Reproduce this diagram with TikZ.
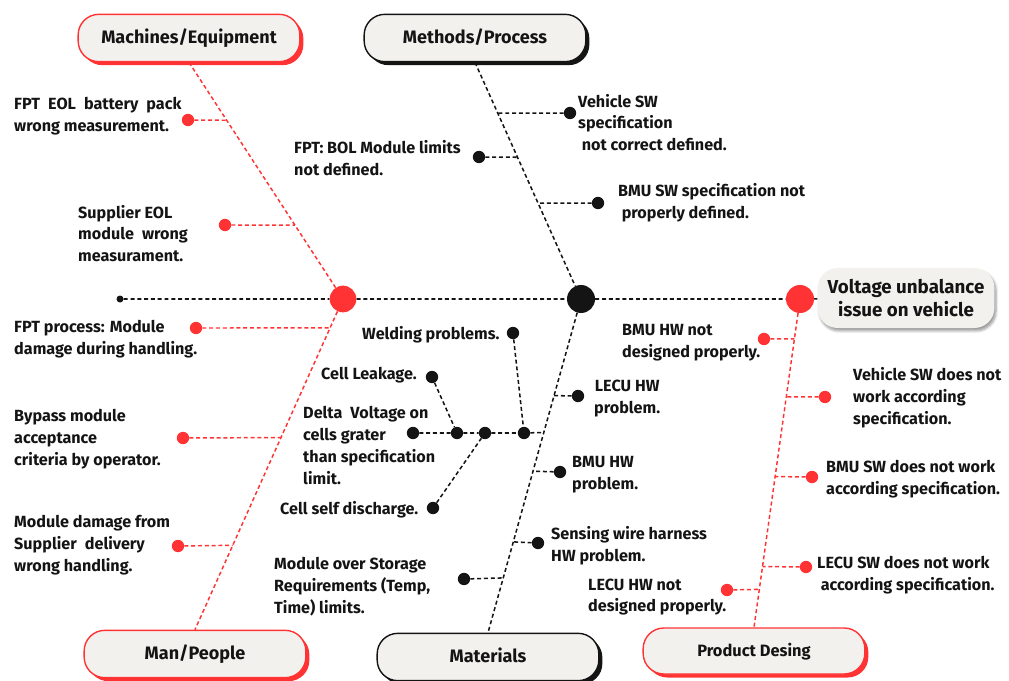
\documentclass[tikz,border=0pt]{standalone}
\usepackage{fontspec}
\setmainfont{Fira Sans}
\usetikzlibrary{calc,shadows,shadows.blur}
\definecolor{ink}{RGB}{20,20,20}
\definecolor{fishred}{RGB}{255,51,51}
\definecolor{paper}{RGB}{243,241,238}
\tikzset{
  every picture/.style={x=0.03cm, y=-0.03cm, color=ink, font=\bfseries\fontsize{13.8}{18.7}\selectfont},
  cat/.style={draw, line width=1.2pt, fill=paper, rounded corners=0.62cm, minimum width=6.65cm, minimum height=1.42cm, text depth=0.5ex, font=\bfseries\fontsize{15.4}{18}\selectfont},
  catred/.style={cat, draw=fishred, drop shadow={shadow xshift=3pt, shadow yshift=-3pt, fill=fishred, opacity=1}},
  catink/.style={cat, draw=ink, drop shadow={shadow xshift=3pt, shadow yshift=-3pt, fill=ink, opacity=1}},
  head/.style={fill=paper, rounded corners=0.6cm, minimum width=5.3cm, minimum height=1.8cm, align=center, font=\bfseries\fontsize{16}{19.6}\selectfont, blur shadow={shadow xshift=1.5pt, shadow yshift=-2.5pt, shadow blur steps=6, shadow opacity=40}},
  dot/.style={circle, fill=ink, inner sep=0pt, minimum size=0.37cm},
  rdot/.style={dot, fill=fishred},
  inkdash/.style={draw=ink, line width=1.3pt, dash pattern=on 3.4pt off 2.4pt},
  reddash/.style={inkdash, draw=fishred, line width=1.25pt},
  lbl/.style={anchor=west, align=left, inner sep=0pt, yshift=-1.3pt},
}
\begin{document}
\begin{tikzpicture}
  \useasboundingbox (0,0) rectangle (1009,681);
  % category boxes and head
  \node[catred] (mach) at (189,38) {Machines/Equipment};
  \node[catink] (meth) at (475,38) {Methods/Process};
  \node[catred] (man) at (195,654) {Man/People};
  \node[catink] (mat) at (488,657) {Materials};
  \node[catred, minimum height=1.38cm, font=\bfseries\fontsize{14}{16}\selectfont] (prod) at (754,651) {Product Desing};
  \node[head] (head) at (906,298) {Voltage unbalance\\issue on vehicle};
  % spine
  \node[dot, minimum size=0.21cm] (tail) at (120,299) {};
  \node[rdot, minimum size=0.8cm] (jm) at (343,299) {};
  \node[dot, minimum size=0.84cm] (jc) at (581,299) {};
  \node[rdot, minimum size=0.84cm] (jp) at (800,299) {};
  \draw[inkdash] (tail) -- (jm) (jm) -- (jc) (jc) -- (jp) (jp) -- (head);
  \draw[reddash] (mach.south) -- (jm) -- (man.north);
  \draw[inkdash] (meth.south) -- (jc) -- (mat.north);
  \draw[reddash] (jp) -- (prod.north);
  % machines / equipment
  \node[rdot] (c1) at (188,120) {};
  \node[rdot] (c2) at (225,225) {};
  \node[lbl] (t1) at (14,115) {FPT\enspace EOL\enspace battery\enspace pack\\wrong measurement.};
  \node[lbl] (t2) at (78,232) {Supplier EOL\\module\enspace wrong\\measurament.};
  \foreach \c/\f in {c1/0.2447, c2/0.6878}
    \draw[reddash] (\c) -- ($(mach.south)!\f!(jm)$);
  % methods / process
  \node[dot] (c3) at (570,113) {};
  \node[dot] (c4) at (479,157) {};
  \node[dot] (c5) at (598,203) {};
  \node[lbl] (t3) at (578,121) {Vehicle SW\\specification\\\hspace{3pt}not correct defined.};
  \node[lbl] (t4) at (294,157) {FPT: BOL Module limits\\not defined.};
  \node[lbl] (t5) at (618,201) {BMU SW specification not\\\hspace{3pt}properly defined.};
  \foreach \c/\f in {c3/0.215, c4/0.401, c5/0.595}
    \draw[inkdash] (\c) -- ($(meth.south)!\f!(jc)$);
  % man / people
  \node[rdot] (c6) at (196,328) {};
  \node[rdot] (c7) at (183,438) {};
  \node[rdot] (c8) at (178,546) {};
  \node[lbl] (t6) at (14,338) {FPT process: Module\\damage during handling.};
  \node[lbl] (t7) at (14,438) {Bypass module\\acceptance\\criteria by operator.};
  \node[lbl] (t8) at (14,544) {Module damage from\\Supplier\enspace delivery\\wrong handling.};
  \foreach \c/\f in {c6/0.0875, c7/0.419, c8/0.745}
    \draw[reddash] (\c) -- ($(jm)!\f!(man.north)$);
  % materials
  \node[dot] (c9) at (578,396) {};
  \node[dot] (c10) at (560,472) {};
  \node[dot] (c11) at (538,543) {};
  \node[dot] (c12) at (464,579) {};
  \node[lbl, align=center] (t9) at (594,397) {LECU HW\\problem.};
  \node[lbl] (t10) at (572,473) {BMU HW\\problem.};
  \node[lbl] (t11) at (551,544.5) {Sensing wire harness\\HW problem.};
  \node[lbl] (t12) at (274,585) {Module over Storage\\Requirements (Temp,\\Time) limits.};
  \foreach \c/\f in {c9/0.2896, c10/0.516, c11/0.728, c12/0.836}
    \draw[inkdash] (\c) -- ($(jc)!\f!(mat.north)$);
  % cell sub-branch
  \node[dot] (s0) at (413,433) {};
  \node[dot] (s1) at (457,433) {};
  \node[dot] (s2) at (485,433) {};
  \node[dot] (s3) at (524,433) {};
  \node[dot] (weld) at (513,333) {};
  \node[dot] (leak) at (432,377) {};
  \node[dot] (self) at (433,508) {};
  \node[lbl] (t13) at (362,333) {Welding problems.};
  \node[lbl] (t14) at (321,374) {Cell Leakage.};
  \node[lbl] (t15) at (303,444) {Delta\enspace Voltage on\\cells grater\\than specification\\limit.};
  \node[lbl] (t16) at (280,508) {Cell self discharge.};
  \draw[inkdash] (s0) -- (s1) -- (s2) -- (s3) -- ($(jc)!0.4!(mat.north)$);
  \draw[inkdash] (weld) -- (s3);
  \draw[inkdash] (leak) -- (s1);
  \draw[inkdash] (self) -- (s2);
  % product design
  \node[rdot] (c13) at (764,339) {};
  \node[rdot] (c14) at (825,397) {};
  \node[rdot] (c15) at (812,477) {};
  \node[rdot] (c16) at (806,567) {};
  \node[rdot] (c17) at (727,590) {};
  \node[lbl] (t17) at (622,341.5) {BMU HW not\\designed properly.};
  \node[lbl] (t18) at (853,396.5) {Vehicle SW does not\\work according\\specification.};
  \node[lbl] (t19) at (826,478) {BMU SW does not work\\according specification.};
  \node[lbl] (t20) at (817,573.5) {LECU SW does not work\\\hspace{3pt}according specification.};
  \node[lbl] (t21) at (588,595.5) {LECU HW not\\designed properly.};
  \foreach \c/\f in {c13/0.1216, c14/0.298, c15/0.541, c16/0.815, c17/0.8845}
    \draw[reddash] (\c) -- ($(jp)!\f!(prod.north)$);
\end{tikzpicture}
\end{document}
